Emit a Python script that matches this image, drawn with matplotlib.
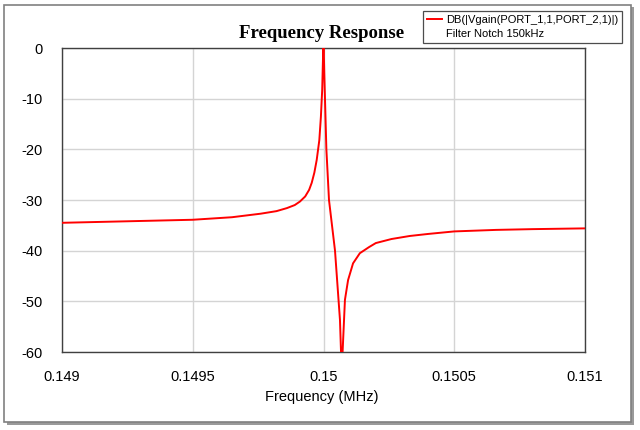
import matplotlib
matplotlib.use("Agg")
import matplotlib.pyplot as plt
from matplotlib.patches import Rectangle
from matplotlib.lines import Line2D

plt.rcParams["axes.unicode_minus"] = False

# Data
freq_mhz = [0.14900, 0.14925, 0.14950, 0.14965, 0.14976, 0.14982, 0.14986,
            0.14989, 0.14991, 0.14993, 0.149945, 0.149955, 0.149965,
            0.149974, 0.149984, 0.14999, 0.149995,
            0.15000, 0.150003, 0.150011, 0.150021, 0.150044, 0.150063,
            0.150067, 0.15007, 0.150073, 0.150082, 0.150094, 0.150113,
            0.150139, 0.150174, 0.15020, 0.15026, 0.15033, 0.15040,
            0.15050, 0.15066, 0.15080, 0.15100]
gain_db = [-34.5, -34.2, -33.9, -33.4, -32.7, -32.2, -31.6,
           -31.0, -30.3, -29.3, -28.0, -26.6, -24.6,
           -22.1, -18.2, -13.6, -8.3,
           2.0, -5.0, -20.0, -30.0, -40.0, -53.7,
           -60.0, -80.0, -60.0, -49.7, -45.8, -42.5,
           -40.5, -39.3, -38.5, -37.7, -37.1, -36.7,
           -36.2, -35.9, -35.75, -35.6]

x_ticks = [0.149, 0.1495, 0.15, 0.1505, 0.151]
x_tick_labels = ["0.149", "0.1495", "0.15", "0.1505", "0.151"]
y_ticks = [0, -10, -20, -30, -40, -50, -60]

title = "Frequency Response"
x_label = "Frequency (MHz)"
series_label = "DB(|Vgain(PORT_1,1,PORT_2,1)|)"
note_label = "Filter Notch 150kHz"

W, H = 640, 430
fig = plt.figure(figsize=(W / 100, H / 100), dpi=100)
fig.patch.set_facecolor("white")

def px(x0, y0, x1, y1):
    return [x0 / W, 1 - y1 / H, (x1 - x0) / W, (y1 - y0) / H]

# outer frame with shadow
fig.patches.append(Rectangle((7 / W, 1 - 425 / H), 627 / W, 418 / H,
                             transform=fig.transFigure, facecolor="#9a9a9a",
                             edgecolor="none", zorder=0))
fig.patches.append(Rectangle((4 / W, 1 - 422 / H), 627 / W, 417 / H,
                             transform=fig.transFigure, facecolor="white",
                             edgecolor="#808080", linewidth=1.2, zorder=0.5))

ax = fig.add_axes(px(62, 48, 585, 352))
ax.set_zorder(2)
ax.plot(freq_mhz, gain_db, color="#ff0000", linewidth=1.4, label=series_label,
        zorder=3)
ax.set_xlim(0.149, 0.151)
ax.set_ylim(-60, 0)
ax.set_xticks(x_ticks)
ax.set_xticklabels(x_tick_labels)
ax.set_yticks(y_ticks)
ax.grid(True, color="#d4d4d4", linewidth=1.0)
ax.tick_params(length=0, labelsize=10.5)
ax.tick_params(axis="x", pad=13)
ax.tick_params(axis="y", pad=14)
for lab in ax.get_xticklabels() + ax.get_yticklabels():
    lab.set_family("Liberation Sans")
for lab in ax.get_yticklabels():
    lab.set_horizontalalignment("right")
for s in ax.spines.values():
    s.set_color("#404040")
    s.set_linewidth(1.0)

fig.text(322 / W, 1 - 33 / H, title, ha="center", va="center",
         family="Liberation Serif", fontweight="bold", fontsize=13.5,
         zorder=3)
fig.text(322 / W, 1 - 397 / H, x_label, ha="center", va="center",
         family="Liberation Sans", fontsize=10.5, zorder=3)

blank = Line2D([], [], color="none")
leg = fig.legend([ax.lines[0], blank], [series_label, note_label],
                 loc="upper left", bbox_to_anchor=(423 / W, 1 - 11 / H),
                 prop={"family": "Liberation Sans", "size": 8},
                 frameon=True, fancybox=False, shadow=False,
                 handlelength=1.4, handletextpad=0.35, borderpad=0.35,
                 labelspacing=0.35, borderaxespad=0)
leg.set_zorder(4)
leg.get_frame().set_edgecolor("#202020")
leg.get_frame().set_linewidth(0.9)

fig.savefig("out.png", dpi=100)
